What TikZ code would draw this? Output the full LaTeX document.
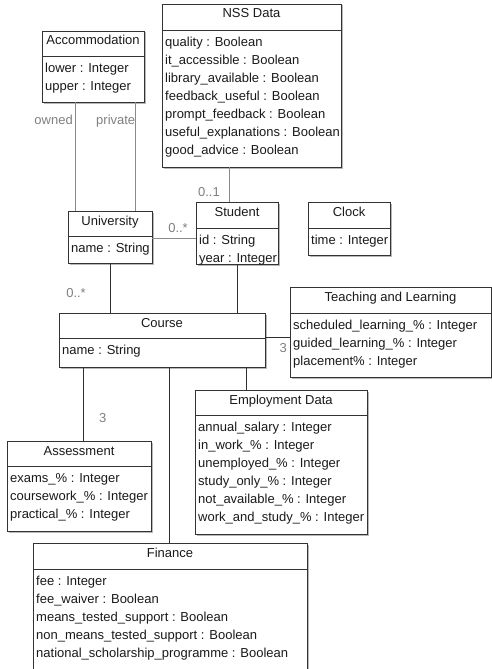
\documentclass[tikz,border=0pt]{standalone}
\usepackage{fontspec}
\setmainfont{Liberation Sans}
\usetikzlibrary{fit,calc}
\definecolor{boxline}{HTML}{333333}
\definecolor{boxshade}{HTML}{B8B8B8}
\definecolor{txtc}{HTML}{1A1A1A}
\definecolor{lblc}{HTML}{808080}
\definecolor{connlight}{HTML}{8A8A8A}
\definecolor{conndark}{HTML}{303030}
\tikzset{
  classbox/.style={draw=boxline, fill=white, line width=0.8pt, inner sep=0pt},
  boxshadow/.style={fill=boxshade},
  titletext/.style={text=txtc, inner sep=0pt, font=\fontsize{13}{18}\selectfont},
  attrtext/.style={text=txtc, inner sep=0pt, align=left, font=\fontsize{13}{18}\selectfont},
  connlt/.style={draw=connlight, line width=0.8pt},
  conndk/.style={draw=conndark, line width=0.8pt},
  mult/.style={text=lblc, inner sep=0pt, font=\fontsize{13}{18}\selectfont}
}
% name, x1, y1, x2, ydiv, y2, title, attributes
\newcommand{\umlclass}[8]{%
  \fill[boxshadow] (#2+1.5,#3+1.5) rectangle (#4+1.5,#6+1.5);
  \node[classbox, fit={(#2,#3) (#4,#6)}] (#1) {};
  \draw[boxline, line width=0.8pt] (#2,#5) -- (#4,#5);
  \node[titletext, anchor=base] (#1-title) at ({(#2+#4)/2},{#3+14}) {#7};
  \node[attrtext, anchor=north west] (#1-attrs) at ({#2+3},{#5+3.4}) {\strut #8};
}
\begin{document}
\begin{tikzpicture}[x=1pt, y=-1pt]
\useasboundingbox[fill=white] (0,0) rectangle (492,669);

\umlclass{acc}{42}{31}{144}{56}{102}{Accommodation}{lower : Integer\\upper : Integer}
\umlclass{nss}{162}{4}{341}{30}{167}{NSS Data}{quality : Boolean\\it\_accessible : Boolean\\library\_available : Boolean\\feedback\_useful : Boolean\\prompt\_feedback : Boolean\\useful\_explanations : Boolean\\good\_advice : Boolean}
\umlclass{stu}{196}{202}{278}{228}{264}{Student}{id : String\\year : Integer}
\umlclass{clk}{308}{202}{390}{228}{255}{Clock}{time : Integer}
\umlclass{uni}{68}{211}{152}{236}{263}{University}{name : String}
\umlclass{crs}{59}{313}{265}{338}{367}{Course}{name : String}
\umlclass{tl}{290}{287}{491}{313}{377}{Teaching and Learning}{scheduled\_learning\_\% : Integer\\guided\_learning\_\% : Integer\\placement\% : Integer}
\umlclass{emp}{195}{390}{367}{415}{534}{Employment Data}{annual\_salary : Integer\\in\_work\_\% : Integer\\unemployed\_\% : Integer\\study\_only\_\% : Integer\\not\_available\_\% : Integer\\work\_and\_study\_\% : Integer}
\umlclass{ass}{7}{441}{151}{466}{531}{Assessment}{exams\_\% : Integer\\coursework\_\% : Integer\\practical\_\% : Integer}
\umlclass{fin}{33}{543}{307}{569}{690}{Finance}{fee : Integer\\fee\_waiver : Boolean\\means\_tested\_support : Boolean\\non\_means\_tested\_support : Boolean\\national\_scholarship\_programme : Boolean}

% connectors
\draw[connlt] ($(acc.south west)+(34,0)$) -- ($(uni.north west)+(8,0)$);
\draw[connlt] ($(acc.south west)+(94,0)$) -- ($(uni.north west)+(68,0)$);
\draw[connlt] ($(nss.south west)+(68,0)$) -- ($(stu.north west)+(34,0)$);
\draw[connlt] ($(uni.north east)+(0,28)$) -- ($(stu.north west)+(0,37)$);
\draw[conndk] ($(uni.south west)+(43,0)$) -- ($(crs.north west)+(52,0)$);
\draw[conndk] ($(stu.south west)+(42,0)$) -- ($(crs.north west)+(179,0)$);
\draw[conndk] ($(crs.north east)+(0,25)$) -- ($(tl.north west)+(0,51)$);
\draw[conndk] ($(crs.south west)+(25,0)$) -- ($(ass.north west)+(77,0)$);
\draw[conndk] ($(crs.south west)+(111,0)$) -- ($(fin.north west)+(137,0)$);
\draw[conndk] ($(crs.south west)+(188,0)$) -- ($(emp.north west)+(52,0)$);

% labels
\node[mult, anchor=base east] (lowned) at (73,124) {owned};
\node[mult, anchor=base west] (lprivate) at (96,124) {private};
\node[mult, anchor=base east] (lnss) at (220,196) {0..1};
\node[mult, anchor=base east] (lstu) at (188,232) {0..*};
\node[mult, anchor=base east] (luni) at (86,297) {0..*};
\node[mult, anchor=base east] (ltl) at (287,352) {3};
\node[mult, anchor=base west] (lass) at (99,422) {3};
\end{tikzpicture}
\end{document}
